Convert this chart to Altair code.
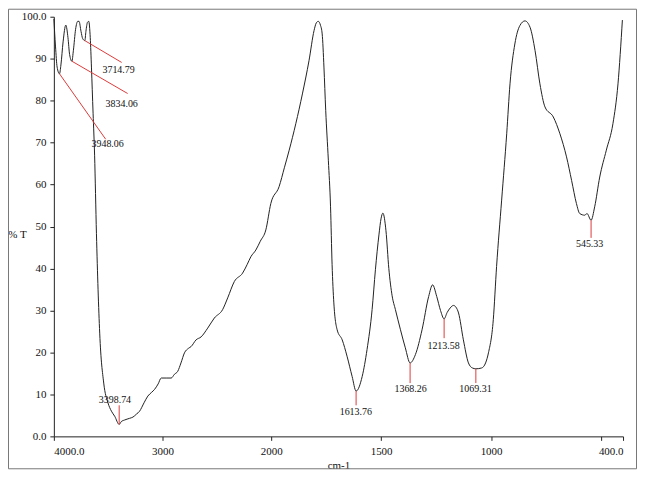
import altair as alt
import pandas as pd

# Spectrum (wavenumber cm-1, %T)
wavenumber = [4000, 3985, 3970, 3948.06, 3935, 3915, 3890, 3870, 3855, 3834.06, 3820, 3800, 3780,
              3768, 3750, 3735, 3714.79, 3705, 3690, 3679, 3665, 3654, 3639, 3625, 3608, 3578,
              3541, 3502, 3470, 3440, 3398.74, 3380, 3349, 3303, 3272, 3240, 3211, 3170, 3135,
              3100, 3073, 3040, 3012, 2960, 2920, 2890, 2860, 2830, 2798, 2760, 2737, 2691,
              2645, 2584, 2523, 2447, 2400, 2339, 2263, 2220, 2187, 2141, 2100, 2049, 2003,
              1964, 1940, 1918, 1888, 1858, 1828, 1805, 1795, 1786, 1776, 1768, 1760, 1752,
              1740, 1730, 1723, 1715, 1700, 1677, 1655, 1632, 1613.76, 1586, 1564, 1541, 1526,
              1510, 1500, 1492, 1478, 1465, 1450, 1435, 1412, 1390, 1368.26, 1344, 1314, 1284,
              1266, 1247, 1230, 1213.58, 1200, 1186, 1171, 1160, 1148, 1126, 1103, 1085,
              1069.31, 1043, 1025, 1012, 990, 975, 952, 929, 914, 892, 869, 846, 823, 800,
              778, 755, 717, 687, 657, 634, 612, 597, 574, 564, 545.33, 529, 506, 476, 446,
              423, 403]
transmittance = [99.5, 93, 88, 86.4, 88.5, 94, 98, 95, 91, 89.4, 92, 97, 98.9,
                 98.9, 96.5, 94.8, 94.3, 96.5, 98.7, 98.9, 95, 88, 77, 67, 48.3, 24.6,
                 12.7, 8, 6, 4.8, 2.85, 3.5, 3.9, 4.3, 4.6, 5.3, 6, 8, 9.6,
                 10.5, 11.2, 12.5, 13.9, 13.9, 13.9, 14.8, 15.5, 17.5, 19.9, 21, 21.4, 23,
                 23.7, 25.8, 28.2, 30.2, 33, 36.9, 38.9, 41, 42.8, 44.4, 46.5, 49.2, 55.5,
                 59.5, 64, 68.2, 74.5, 81.6, 89.5, 96.7, 98.5, 98.9, 98, 95.9, 88, 77.7,
                 65.8, 54.7, 41, 31.8, 25.4, 23, 19.1, 14.3, 10.8, 14.3, 20.7, 30.2, 39.7,
                 48, 52, 53.2, 49, 40, 33.5, 30.2, 25.4, 21.1, 17.5, 19.5, 25.4, 33.3,
                 36.1, 33.3, 30, 28, 29.5, 30.6, 31.2, 30.8, 29.4, 23, 17.5, 16.3,
                 16.1, 16.3, 17.5, 19.9, 27.8, 40.5, 56.3, 72.1, 84, 93.5, 97.9, 99, 97.5, 91.9,
                 84, 78.5, 76.1, 72.1, 66.6, 61, 55.5, 53.1, 52.7, 53.1, 51.5, 54.7, 61.8, 68.2, 74.5,
                 84, 99.2]

# Peak annotations
peak_labels = ["3948.06", "3834.06", "3714.79", "3398.74", "1613.76", "1368.26", "1213.58", "1069.31", "545.33"]
peak_w = [3948.06, 3834.06, 3714.79, 3398.74, 1613.76, 1368.26, 1213.58, 1069.31, 545.33]
peak_t = [86.4, 89.4, 94.3, 2.85, 10.8, 17.5, 28, 16.1, 51.5]
lead_w = [3523, 3321, 3376, 3398.74, 1613.76, 1368.26, 1213.58, 1069.31, 545.33]
lead_t = [70.8, 81.7, 89.1, 7.4, 7.4, 12.7, 23.4, 12.7, 47.3]
label_w = [3505, 3376, 3404, 3438, 1615, 1366, 1216, 1071, 552]
label_t = [69.6, 79.3, 87.2, 8.6, 5.9, 11.4, 21.6, 11.4, 45.8]

x_ticks = [4000, 3000, 2000, 1500, 1000, 500, 400]
y_ticks = [0, 10, 20, 30, 40, 50, 60, 70, 80, 90, 100]

spec = pd.DataFrame({"w": wavenumber, "t": transmittance, "i": list(range(len(wavenumber)))})
ann = pd.DataFrame({"label": peak_labels, "w": peak_w, "t": peak_t,
                    "w2": lead_w, "t2": lead_t, "lw": label_w, "lt": label_t})

W, H = 571, 421
xscale = alt.Scale(domain=[4000, 2000, 400], range=[0, 218, W], nice=False, zero=False)
yscale = alt.Scale(domain=[0, 100], nice=False, zero=False)

SERIF = "Liberation Serif"

line = alt.Chart(spec).mark_line(color="#222222", strokeWidth=1, interpolate="monotone").encode(
    x=alt.X("w:Q", scale=xscale,
            axis=alt.Axis(values=x_ticks, title="cm-1",
                          labelExpr="datum.value == 4000 ? '4000.0' : datum.value == 400 ? '400.0' : datum.value == 500 ? '' : datum.label",
                          format="d", labelPadding=5, tickSize=4,
                          titleY=29, titleBaseline="middle", titleFontWeight="normal",
                          titleFont=SERIF, titleFontSize=11)),
    y=alt.Y("t:Q", scale=yscale,
            axis=alt.Axis(values=y_ticks, title="% T",
                          labelExpr="datum.value == 0 ? '0.0' : datum.value == 100 ? '100.0' : datum.label",
                          labelPadding=4, tickSize=4, titleAngle=0, titleX=-37, titleY=218,
                          titleAlign="center", titleBaseline="middle", titleFontWeight="normal",
                          titleFont=SERIF, titleFontSize=11)),
    order="i:Q",
)

leads = alt.Chart(ann).mark_rule(color="#dd3b3b", strokeWidth=1).encode(
    x="w:Q", y="t:Q", x2="w2:Q", y2="t2:Q"
)

labels = alt.Chart(ann).mark_text(font=SERIF, fontSize=10, color="#111111", baseline="middle", align="center").encode(
    x="lw:Q", y="lt:Q", text="label:N"
)

frame = alt.Chart(pd.DataFrame({"a": [0]})).mark_rect(fill="transparent", stroke="#777777", strokeWidth=1).encode(
    x=alt.value(-45.5), x2=alt.value(W + 13.5), y=alt.value(-7.5), y2=alt.value(H + 32.5)
)

chart = alt.layer(frame, line, leads, labels).properties(
    width=W, height=H,
    autosize=alt.AutoSizeParams(type="none"),
    padding={"left": 46, "top": 8, "right": 14, "bottom": 33},
).configure_view(strokeWidth=0).configure_axis(
    grid=False, domainColor="#222222", tickColor="#222222", labelColor="#111111",
    titleColor="#111111", labelFont=SERIF, labelFontSize=11,
)

chart.save("out.html", embed_options={"renderer": "svg", "actions": False})
